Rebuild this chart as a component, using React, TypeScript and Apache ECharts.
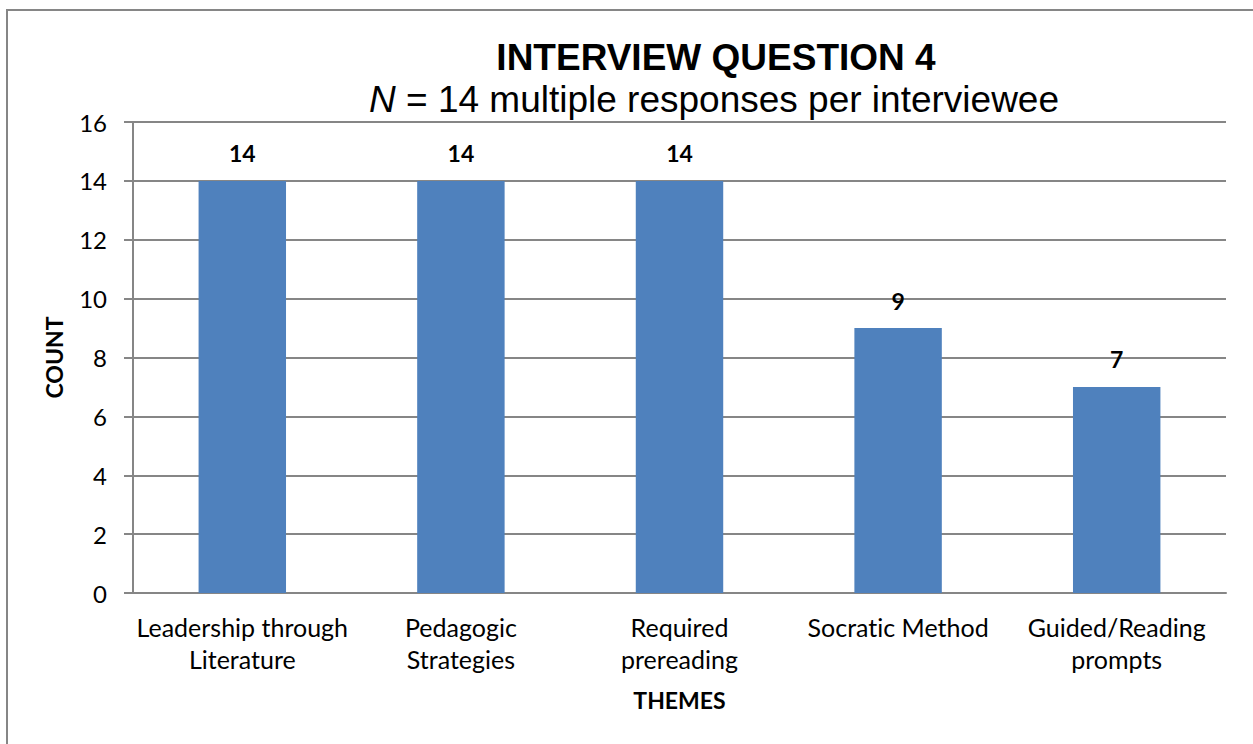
import React, { useEffect, useRef } from "react";
import * as echarts from "echarts";

const categories: string[] = [
  "Leadership through\nLiterature",
  "Pedagogic\nStrategies",
  "Required\nprereading",
  "Socratic Method",
  "Guided/Reading\nprompts",
];
const counts: number[] = [14, 14, 14, 9, 7];
const yTicks = { min: 0, max: 16, interval: 2 };
const titleText = "INTERVIEW QUESTION 4";
const subtitleItalic = "N";
const subtitleRest = " = 14 multiple responses per interviewee";
const yAxisTitle = "COUNT";
const xAxisTitle = "THEMES";

const BODY_FONT = "Lato, 'DejaVu Sans', sans-serif";
const TITLE_FONT = "'Liberation Sans', Arial, sans-serif";
const GRID_GRAY = "#868686";

export default function App() {
  const ref = useRef<HTMLDivElement>(null);
  useEffect(() => {
    if (!ref.current) return;
    const chart = echarts.init(ref.current, undefined, { renderer: "svg" });
    chart.setOption({
      animation: false,
      backgroundColor: "#ffffff",
      grid: { left: 133, right: 27, top: 122, bottom: 151, containLabel: false },
      graphic: [
        {
          type: "rect",
          shape: { x: 7, y: 10, width: 1270, height: 760 },
          style: { fill: "none", stroke: GRID_GRAY, lineWidth: 2 },
          silent: true,
        },
        {
          type: "text",
          x: 716,
          y: 57,
          style: {
            text: titleText,
            fontFamily: TITLE_FONT,
            fontSize: 37,
            fontWeight: "bold",
            fill: "#000000",
            textAlign: "center",
            textVerticalAlign: "middle",
          },
        },
        {
          type: "text",
          x: 714,
          y: 99,
          style: {
            text: "{i|" + subtitleItalic + "}{n|" + subtitleRest + "}",
            fontFamily: TITLE_FONT,
            fontSize: 37,
            fill: "#000000",
            textAlign: "center",
            textVerticalAlign: "middle",
            rich: {
              i: { fontFamily: TITLE_FONT, fontSize: 37, fontStyle: "italic", fill: "#000000" },
              n: { fontFamily: TITLE_FONT, fontSize: 37, fill: "#000000" },
            },
          },
        },
      ],
      xAxis: {
        type: "category",
        data: categories,
        name: xAxisTitle,
        nameLocation: "middle",
        nameGap: 95,
        nameTextStyle: {
          fontFamily: BODY_FONT,
          fontSize: 23,
          fontWeight: "bold",
          color: "#000000",
        },
        axisLine: { show: true, lineStyle: { color: GRID_GRAY, width: 2 } },
        axisTick: { show: false },
        axisLabel: {
          interval: 0,
          margin: 18,
          fontFamily: BODY_FONT,
          fontSize: 25,
          lineHeight: 32,
          color: "#000000",
        },
      },
      yAxis: {
        type: "value",
        min: yTicks.min,
        max: yTicks.max,
        interval: yTicks.interval,
        name: yAxisTitle,
        nameLocation: "middle",
        nameGap: 68,
        nameRotate: 90,
        nameTextStyle: {
          fontFamily: BODY_FONT,
          fontSize: 23,
          fontWeight: "bold",
          color: "#000000",
        },
        axisLine: { show: true, lineStyle: { color: GRID_GRAY, width: 2 } },
        axisTick: { show: true, length: 9, lineStyle: { color: GRID_GRAY, width: 2 } },
        splitLine: { show: true, lineStyle: { color: GRID_GRAY, width: 2 } },
        axisLabel: {
          margin: 26,
          fontFamily: BODY_FONT,
          fontSize: 24,
          color: "#000000",
        },
      },
      series: [
        {
          type: "bar",
          data: counts,
          barCategoryGap: "60%",
          itemStyle: { color: "#4F81BD" },
          label: {
            show: true,
            position: "top",
            distance: 16,
            fontFamily: BODY_FONT,
            fontSize: 23,
            fontWeight: "bold",
            color: "#000000",
          },
        },
      ],
    });
    return () => chart.dispose();
  }, []);
  return (
    <div
      ref={ref}
      style={{
        position: "fixed",
        left: 0,
        top: 0,
        width: 1253,
        height: 744,
        background: "#fff",
        fontVariantLigatures: "none",
      }}
    />
  );
}
